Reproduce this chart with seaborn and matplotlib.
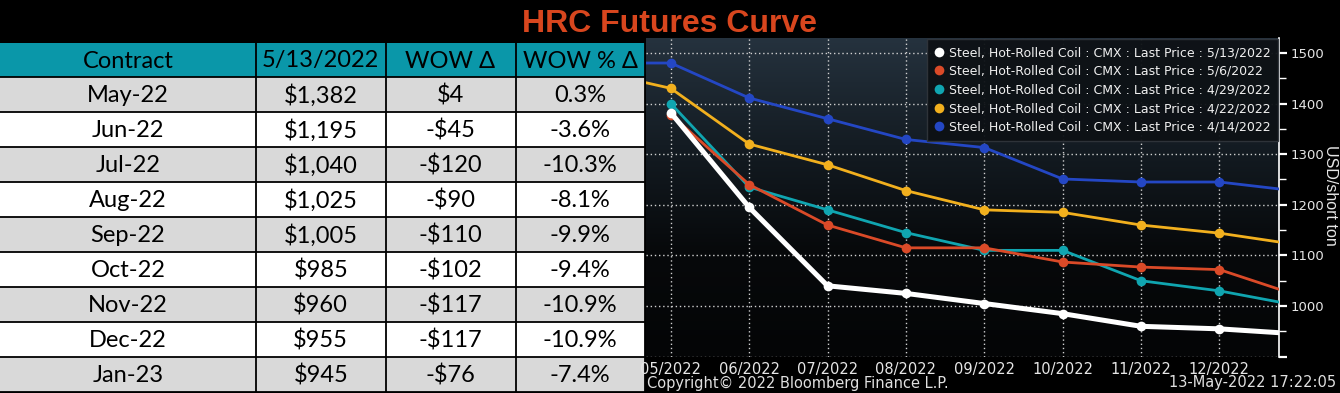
import numpy as np
import pandas as pd
import matplotlib.pyplot as plt
import seaborn as sns
from matplotlib.colors import LinearSegmentedColormap
from matplotlib.lines import Line2D
from matplotlib.patches import Rectangle

# table data
contracts = ["May-22", "Jun-22", "Jul-22", "Aug-22", "Sep-22", "Oct-22", "Nov-22", "Dec-22", "Jan-23"]
price_0513 = [1382, 1195, 1040, 1025, 1005, 985, 960, 955, 945]
wow_delta = ["$4", "-$45", "-$120", "-$90", "-$110", "-$102", "-$117", "-$117", "-$76"]
wow_pct = ["0.3%", "-3.6%", "-10.3%", "-8.1%", "-9.9%", "-9.4%", "-10.9%", "-10.9%", "-7.4%"]
header = ["Contract", "5/13/2022", "WOW \u0394", "WOW % \u0394"]

# curve data (month index 0 = 05/2022, -1 = Apr-22 contract)
months_idx = [0, 1, 2, 3, 4, 5, 6, 7, 8]
month_labels = ["05/2022", "06/2022", "07/2022", "08/2022", "09/2022", "10/2022", "11/2022", "12/2022"]
price_0506 = [1378, 1240, 1160, 1115, 1115, 1087, 1077, 1072, 1021]
price_0429 = [1400, 1235, 1190, 1145, 1110, 1110, 1050, 1030, 1001]
price_0422 = [1465, 1430, 1320, 1279, 1228, 1190, 1185, 1160, 1144, 1121]
price_0414 = [1480, 1480, 1411, 1370, 1329, 1313, 1251, 1245, 1245, 1227]
months_idx_long = [-1, 0, 1, 2, 3, 4, 5, 6, 7, 8]

series_names = ["5/13/2022", "5/6/2022", "4/29/2022", "4/22/2022", "4/14/2022"]
series_colors = ["#FFFFFF", "#DA4A28", "#10A5B0", "#F2B01E", "#2447C4"]

sns.set_theme(style="dark")
plt.rcParams["font.family"] = ["Liberation Sans", "DejaVu Sans"]
narrow = ["Liberation Sans Narrow", "DejaVu Sans"]

W, H = 1340, 393
fig = plt.figure(figsize=(13.4, 3.93), dpi=100, facecolor="black")

# ---- table ----
ax_t = fig.add_axes([0, 0, 645 / W, 1])
ax_t.set_xlim(0, 645)
ax_t.set_ylim(H, 0)
ax_t.axis("off")
ax_t.set_facecolor("black")

col_edges = [0, 256, 385.5, 515.5, 645]
head_top, head_bot, row_h = 43, 77, 35
tfont = dict(family=["Lato", "DejaVu Sans"], fontsize=17, color="black", ha="center", va="center")

ax_t.add_patch(Rectangle((0, head_top), 645, head_bot - head_top, color="#0A97A9", lw=0))
for j, txt in enumerate(header):
    cx = (col_edges[j] + col_edges[j + 1]) / 2
    ax_t.text(cx, (head_top + head_bot) / 2 + 1, txt, **tfont)

for i in range(len(contracts)):
    y0 = head_bot + i * row_h
    fc = "#D9D9D9" if i % 2 == 0 else "#FFFFFF"
    ax_t.add_patch(Rectangle((0, y0), 645, row_h, color=fc, lw=0))
    row = [contracts[i], f"${price_0513[i]:,}", wow_delta[i], wow_pct[i]]
    for j, txt in enumerate(row):
        cx = (col_edges[j] + col_edges[j + 1]) / 2
        ax_t.text(cx, y0 + row_h / 2 + 1, txt, **tfont)
    ax_t.plot([0, 645], [y0, y0], color="black", lw=1.3)
ax_t.plot([0, 645], [H - 1, H - 1], color="black", lw=1.3)
for x in col_edges[1:]:
    ax_t.plot([x, x], [head_top, H], color="black", lw=1.3)

fig.text(670 / W, 1 - 24 / H, "HRC Futures Curve", color="#D8461E", fontsize=23,
         fontweight="bold", ha="center", va="center", family=["Liberation Sans", "DejaVu Sans"])

# ---- futures curve ----
left, right, top, bottom = 645.7, 1279, 37.7, 356.7
ax = fig.add_axes([left / W, 1 - bottom / H, (right - left) / W, (bottom - top) / H])

grad = LinearSegmentedColormap.from_list("bbg", ["#25323E", "#141C23", "#07090B", "#040506"])
ax.imshow(np.linspace(0, 1, 256).reshape(-1, 1), extent=[0, 1, 0, 1], transform=ax.transAxes,
          cmap=grad, aspect="auto", zorder=0)

curves = [
    (months_idx, price_0513),
    (months_idx, price_0506),
    (months_idx, price_0429),
    (months_idx_long, price_0422),
    (months_idx_long, price_0414),
]
# draw oldest first so the latest curve sits on top
for k in reversed(range(len(curves))):
    xs, ys = curves[k]
    df = pd.DataFrame({"m": xs, "p": ys})
    lw = 3.6 if k == 0 else 2.0
    sns.lineplot(data=df, x="m", y="p", ax=ax, color=series_colors[k], lw=lw,
                 marker="o", markersize=7, markeredgewidth=0, zorder=3 + (5 - k))

ax.set_xlim(-0.32, 7.76)
ax.set_ylim(900, 1530)
ax.set_xticks(range(len(month_labels)))
ax.set_xticklabels(month_labels)
yt = [900, 1000, 1100, 1200, 1300, 1400, 1500]
ax.set_yticks(yt)
ax.set_yticklabels([""] + [str(v) for v in yt[1:]])
ax.set_yticks([950, 1050, 1150, 1250, 1350, 1450], minor=True)
ax.yaxis.tick_right()
ax.set_xlabel("")
ax.set_ylabel("")

ax.grid(True, which="major", color="#D0D0D0", linestyle=(0, (1, 2)), lw=1)
ax.tick_params(axis="x", length=0, pad=4, colors="#E6E6E6", labelsize=10.5)
ax.tick_params(axis="y", which="major", direction="out", length=6, width=1.6,
               colors="white", labelcolor="#E6E6E6", labelsize=9.5, pad=2)
ax.tick_params(axis="y", which="minor", direction="out", length=5, width=1, colors="white")
for lab in ax.get_xticklabels() + ax.get_yticklabels():
    lab.set_family(narrow)
for side in ["left", "top", "bottom"]:
    ax.spines[side].set_visible(False)
ax.spines["right"].set_color("white")
ax.spines["right"].set_linewidth(1.2)

fig.text(1330 / W, 1 - 195 / H, "USD/short ton", color="#E6E6E6", fontsize=11.5,
         rotation=270, ha="center", va="center")

handles = [Line2D([], [], ls="none", marker="o", markersize=7, markeredgewidth=0, color=c)
           for c in series_colors]
labels = [f"Steel, Hot-Rolled Coil : CMX : Last Price : {s}" for s in series_names]
leg = ax.legend(handles, labels, loc="upper right", bbox_to_anchor=(0.998, 0.995),
                borderaxespad=0, frameon=True, facecolor="#0D1115", edgecolor="#30353B",
                framealpha=0.95, handlelength=0.8, handletextpad=0.4, labelspacing=0.45,
                borderpad=0.55, fancybox=False, prop={"family": narrow, "size": 9})
for t in leg.get_texts():
    t.set_color("#F0F0F0")
leg.set_zorder(20)

fig.text(647 / W, 1 - 383 / H, "Copyright\u00a9 2022 Bloomberg Finance L.P.", color="#E0E0E0",
         fontsize=10.5, ha="left", va="center", family=narrow)
fig.text(1336 / W, 1 - 383 / H, "13-May-2022 17:22:05", color="#E0E0E0",
         fontsize=10.5, ha="right", va="center", family=narrow)

fig.savefig("out.png", dpi=100, facecolor="black")
